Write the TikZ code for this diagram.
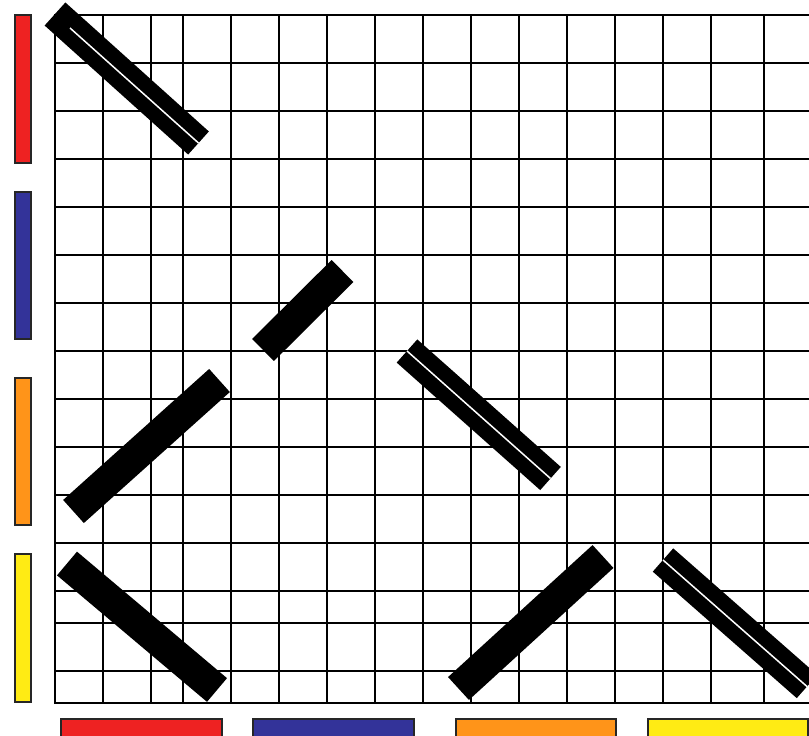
\documentclass[tikz,border=0pt]{standalone}
\definecolor{cred}{HTML}{EE2222}
\definecolor{cblue}{HTML}{333399}
\definecolor{corange}{HTML}{FF9419}
\definecolor{cyellow}{HTML}{FFEB14}
\tikzset{
  gridline/.style={draw=black,line width=1.9pt},
  bar/.style={draw=black,line width=31pt,line cap=butt},
  slit/.style={draw=white,line width=1.5pt,line cap=butt},
  swatch/.style={draw=black!85,line width=1.5pt}
}
\begin{document}
\begin{tikzpicture}[x=1pt,y=-1pt]
\useasboundingbox (0,0) rectangle (809,736);
\begin{scope}
\clip (0,0) rectangle (809,736);
% grid
\foreach \gx in {55,103,151,183,231,279,327,375,423,471,519,567,615,663,711,764}
  \draw[gridline] (\gx,15) -- (\gx,703);
\foreach \gy in {15,63,111,159,207,255,303,351,399,447,495,543,591,623,671,703}
  \draw[gridline] (54.1,\gy) -- (812,\gy);
% bars
\coordinate (a1) at (55,14);      \coordinate (a2) at (198.5,143);
\coordinate (a3) at (70,28);
\coordinate (b1) at (342.5,271);  \coordinate (b2) at (263,350);
\coordinate (c1) at (219.5,380.5);\coordinate (c2) at (73.5,511.5);
\coordinate (d1) at (407,351);    \coordinate (d2) at (550.5,478.5);
\coordinate (e1) at (67,563.5);   \coordinate (e2) at (217,690);
\coordinate (f1) at (458.5,688.5);\coordinate (f2) at (603,556.5);
\coordinate (g1) at (663,560);    \coordinate (g2) at (807,686.5);
\draw[bar] (a1) -- (a2);
\draw[slit] (a3) -- (a2);
\draw[bar] (b1) -- (b2);
\draw[bar] (c1) -- (c2);
\draw[bar] (d1) -- (d2);
\draw[slit] (d1) -- (d2);
\draw[bar] (e1) -- (e2);
\draw[bar] (f1) -- (f2);
\draw[bar] (g1) -- (g2);
\draw[slit] (g1) -- (g2);
% left swatches
\draw[swatch,fill=cred]    (15,15)  rectangle (31,163);
\draw[swatch,fill=cblue]   (15,192) rectangle (31,339);
\draw[swatch,fill=corange] (15,378) rectangle (31,525);
\draw[swatch,fill=cyellow] (15,554) rectangle (31,702);
% bottom swatches
\draw[swatch,fill=cred]    (61,719)  rectangle (222,745);
\draw[swatch,fill=cblue]   (253,719) rectangle (414,745);
\draw[swatch,fill=corange] (456,719) rectangle (616,745);
\draw[swatch,fill=cyellow] (648,719) rectangle (808,745);
\end{scope}
\end{tikzpicture}
\end{document}
